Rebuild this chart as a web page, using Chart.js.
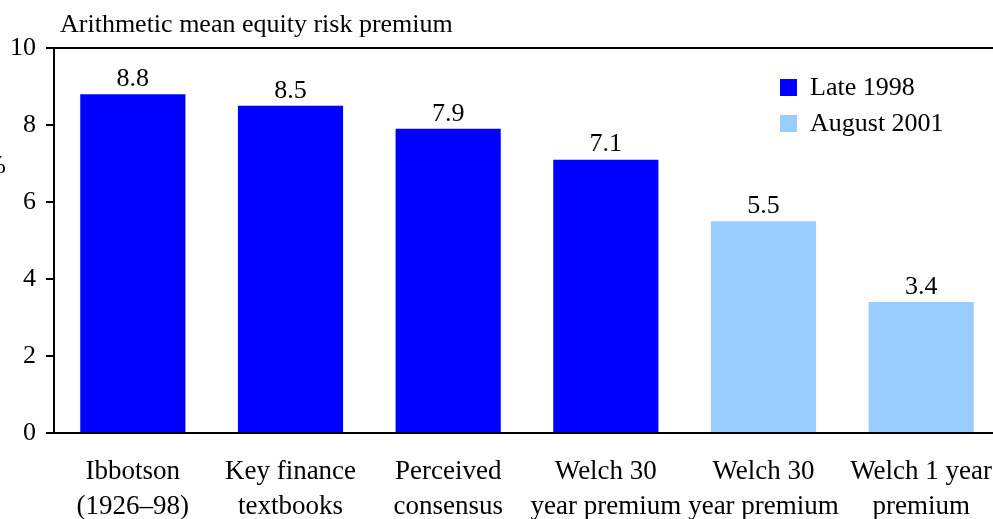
<!DOCTYPE html>
<html>
<head>
<meta charset="utf-8">
<script src="https://cdn.jsdelivr.net/npm/chart.js@4.4.0/dist/chart.umd.min.js"></script>
<style>
    html, body { margin: 0; padding: 0; background: #fff; overflow: hidden; }
    #chart { display: block; }
</style>
</head>
<body>
<canvas id="chart" width="1000" height="519"></canvas>
<script>
// Chart data
const categories = [
    ['Ibbotson', '(1926\u201398)'],
    ['Key finance', 'textbooks'],
    ['Perceived', 'consensus'],
    ['Welch 30', 'year premium'],
    ['Welch 30', 'year premium'],
    ['Welch 1 year', 'premium']
];
const late1998 = [8.8, 8.5, 7.9, 7.1, null, null];
const august2001 = [null, null, null, null, 5.5, 3.4];
const seriesNames = ['Late 1998', 'August 2001'];
const seriesColors = ['#0000FF', '#99CCFF'];
const yTicks = [0, 2, 4, 6, 8, 10];
const chartTitle = 'Arithmetic mean equity risk premium';
const yLabel = '%';

const FONT = '"Liberation Serif", "Times New Roman", serif';

// Draws title, value labels and the legend on the canvas
const annotations = {
    id: 'annotations',
    afterDatasetsDraw(chart) {
        const ctx = chart.ctx;
        ctx.save();
        ctx.fillStyle = '#000';
        ctx.font = '26px ' + FONT;

        // Values above the bars
        ctx.textAlign = 'center';
        ctx.textBaseline = 'bottom';
        chart.data.datasets.forEach((ds, i) => {
            chart.getDatasetMeta(i).data.forEach((bar, j) => {
                if (ds.data[j] == null) return;
                ctx.fillText(ds.data[j].toFixed(1), bar.x, bar.y - 2);
            });
        });

        // Title
        ctx.textAlign = 'left';
        ctx.textBaseline = 'middle';
        ctx.fillText(chartTitle, 60, 25);

        // Axis unit, partly off the left edge
        ctx.textAlign = 'right';
        ctx.fillText(yLabel, 6, 166);

        // Legend
        ctx.textAlign = 'left';
        chart.data.datasets.forEach((ds, i) => {
            const y = 87 + i * 36;
            ctx.fillStyle = ds.backgroundColor;
            ctx.fillRect(780, y - 8, 17, 17);
            ctx.fillStyle = '#000';
            ctx.fillText(ds.label, 810, y + 1);
        });
        ctx.restore();
    }
};

const ctx = document.getElementById('chart').getContext('2d');
new Chart(ctx, {
    type: 'bar',
    data: {
        labels: categories,
        datasets: [
            { label: seriesNames[0], data: late1998, backgroundColor: seriesColors[0] },
            { label: seriesNames[1], data: august2001, backgroundColor: seriesColors[1] }
        ]
    },
    options: {
        responsive: false,
        animation: false,
        grouped: false,
        barPercentage: 0.667,
        categoryPercentage: 1,
        layout: { padding: { top: 48, right: 0, left: 0, bottom: 0 } },
        plugins: {
            legend: { display: false },
            tooltip: { enabled: false }
        },
        scales: {
            x: {
                grid: { display: false, drawTicks: false },
                border: { color: '#000', width: 2 },
                ticks: {
                    color: '#000',
                    padding: 21,
                    maxRotation: 0,
                    autoSkip: false,
                    font: { family: FONT, size: 27, lineHeight: 1.3 }
                },
                afterFit(scale) {
                    scale.height = 86;
                    scale.paddingLeft = 0;
                    scale.paddingRight = 0;
                }
            },
            y: {
                min: 0,
                max: 10,
                afterBuildTicks(scale) {
                    scale.ticks = yTicks.map(v => ({ value: v }));
                },
                grid: {
                    color: c => (c.tick && c.tick.value === 10 ? '#000' : 'rgba(0,0,0,0)'),
                    tickColor: '#000',
                    tickLength: 8,
                    lineWidth: 2
                },
                border: { color: '#000', width: 2 },
                ticks: {
                    color: '#000',
                    padding: 10,
                    font: { family: FONT, size: 26 }
                },
                afterFit(scale) {
                    scale.width = 54;
                    scale.paddingTop = 0;
                    scale.paddingBottom = 0;
                }
            }
        }
    },
    plugins: [annotations]
});
</script>
</body>
</html>
